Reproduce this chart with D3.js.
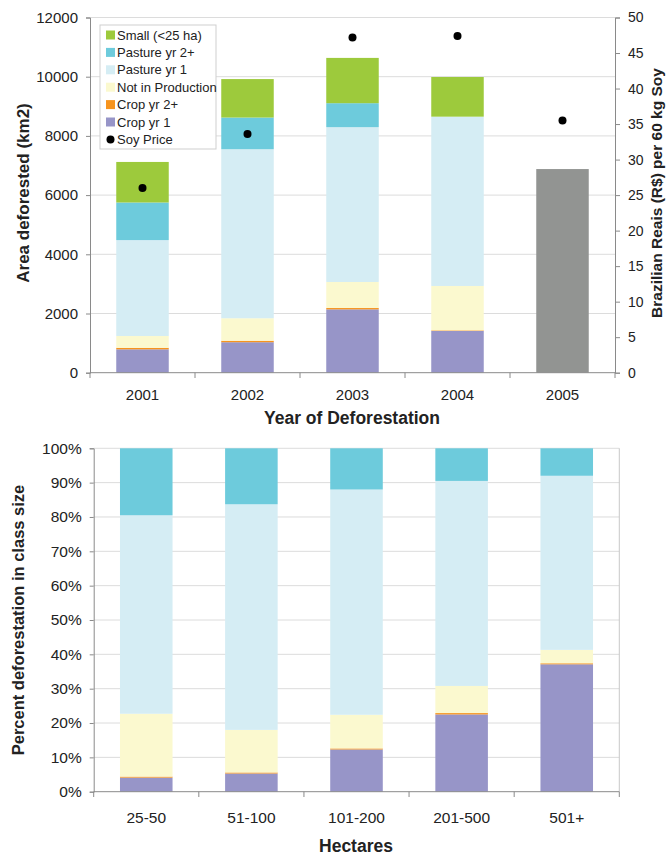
<!DOCTYPE html>
<meta charset="utf-8" />
<script src="https://d3js.org/d3.v7.min.js"></script>
<style>
  body { margin: 0; background: #fff; }
  text { font-family: "Liberation Sans", Arial, sans-serif; fill: #222; }
</style>
<body>
  <div id="my_dataviz"></div>
</body>
<script>
  // ---- data ----
  const years = ["2001", "2002", "2003", "2004", "2005"];
  const cropYr1 = [790, 1030, 2140, 1410, 0];
  const cropYr2 = [50, 50, 45, 20, 0];
  const notInProd = [400, 760, 880, 1500, 0];
  const pastureYr1 = [3240, 5710, 5230, 5720, 0];
  const pastureYr2 = [1270, 1070, 810, 0, 0];
  const small = [1370, 1300, 1530, 1340, 0];
  const unclassified = [0, 0, 0, 0, 6880];
  const soyPrice = [26.0, 33.6, 47.2, 47.4, 35.5];

  const sizes = ["25-50", "51-100", "101-200", "201-500", "501+"];
  const pctCropYr1 = [4.1, 5.3, 12.3, 22.5, 37.1];
  const pctCropYr2 = [0.3, 0.3, 0.3, 0.4, 0.3];
  const pctNotInProd = [18.3, 12.4, 9.8, 7.9, 3.9];
  const pctPastureYr1 = [57.8, 65.7, 65.6, 59.7, 50.7];
  const pctPastureYr2 = [19.5, 16.3, 12.0, 9.5, 8.0];

  const leftTicks = [0, 2000, 4000, 6000, 8000, 10000, 12000];
  const rightTicks = [0, 5, 10, 15, 20, 25, 30, 35, 40, 45, 50];
  const pctTicks = [0, 10, 20, 30, 40, 50, 60, 70, 80, 90, 100];

  const keys = ["cropYr1", "cropYr2", "notInProd", "pastureYr1", "pastureYr2", "small", "unclassified"];
  const colors = {
    cropYr1: "#9795c8", cropYr2: "#f7941e", notInProd: "#fbf9cf",
    pastureYr1: "#d5edf4", pastureYr2: "#6dcbdc", small: "#9dca3c", unclassified: "#929492"
  };
  const gridColor = "#dcdcdc", axisColor = "#8a8a8a";

  const width = 667, height = 857;
  const svg = d3.select("#my_dataviz")
    .append("svg")
      .attr("width", width)
      .attr("height", height);

  // ---------------- top chart ----------------
  const topRows = years.map((y, i) => ({
    cat: y, cropYr1: cropYr1[i], cropYr2: cropYr2[i], notInProd: notInProd[i],
    pastureYr1: pastureYr1[i], pastureYr2: pastureYr2[i], small: small[i], unclassified: unclassified[i]
  }));

  const x1 = d3.scaleBand().domain(years).range([90, 615]).paddingInner(0.5).paddingOuter(0.25);
  const yL = d3.scaleLinear().domain([0, 12000]).range([372.7, 17.5]);
  const yR = d3.scaleLinear().domain([0, 50]).range([372.7, 17.5]);

  const topG = svg.append("g");

  // gridlines
  topG.append("g").selectAll("line")
    .data(leftTicks.slice(1))
    .join("line")
      .attr("x1", 90).attr("x2", 615)
      .attr("y1", d => yL(d)).attr("y2", d => yL(d))
      .attr("stroke", gridColor);

  // stacked bars
  const topStack = d3.stack().keys(keys)(topRows);
  topG.append("g").selectAll("g")
    .data(topStack)
    .join("g")
      .attr("fill", d => colors[d.key])
    .selectAll("rect")
    .data(d => d)
    .join("rect")
      .attr("x", d => x1(d.data.cat))
      .attr("width", x1.bandwidth())
      .attr("y", d => yL(d[1]))
      .attr("height", d => yL(d[0]) - yL(d[1]));

  // axes
  const leftAxis = topG.append("g")
    .attr("transform", "translate(90,0)")
    .call(d3.axisLeft(yL).tickValues(leftTicks).tickSize(4).tickPadding(8).tickFormat(d3.format("d")));
  const rightAxis = topG.append("g")
    .attr("transform", "translate(615,0)")
    .call(d3.axisRight(yR).tickValues(rightTicks).tickSize(5).tickPadding(8));
  const bottomAxis1 = topG.append("g")
    .attr("transform", "translate(0,372.7)")
    .call(d3.axisBottom(x1).tickSize(0).tickPadding(17));
  [leftAxis, rightAxis, bottomAxis1].forEach(a => {
    a.selectAll("path, line").attr("stroke", axisColor);
    a.selectAll("text").style("font-size", "15px").attr("fill", "#222");
  });
  rightAxis.selectAll("text").style("font-size", "14px");
  bottomAxis1.select("path").attr("d", "M90,0H615");

  // category boundary ticks
  const step1 = x1.step();
  topG.append("g").selectAll("line")
    .data(d3.range(years.length + 1))
    .join("line")
      .attr("x1", i => 90 + i * step1).attr("x2", i => 90 + i * step1)
      .attr("y1", 372.7).attr("y2", 378)
      .attr("stroke", axisColor);

  // soy price points
  topG.append("g").selectAll("circle")
    .data(soyPrice)
    .join("circle")
      .attr("cx", (d, i) => x1(years[i]) + x1.bandwidth() / 2)
      .attr("cy", d => yR(d))
      .attr("r", 4)
      .attr("fill", "#000");

  // titles
  topG.append("text")
    .attr("transform", "translate(29,193) rotate(-90)")
    .attr("text-anchor", "middle")
    .style("font-size", "17px").style("font-weight", "bold")
    .text("Area deforested (km2)");
  topG.append("text")
    .attr("transform", "translate(662,193) rotate(-90)")
    .attr("text-anchor", "middle")
    .style("font-size", "15.5px").style("font-weight", "bold")
    .text("Brazilian Reais (R$) per 60 kg Soy");
  topG.append("text")
    .attr("x", 352).attr("y", 424)
    .attr("text-anchor", "middle")
    .style("font-size", "17.5px").style("font-weight", "bold")
    .text("Year of Deforestation");

  // legend
  const legendItems = [
    {key: "small", label: "Small (<25 ha)"},
    {key: "pastureYr2", label: "Pasture yr 2+"},
    {key: "pastureYr1", label: "Pasture yr 1"},
    {key: "notInProd", label: "Not in Production"},
    {key: "cropYr2", label: "Crop yr 2+"},
    {key: "cropYr1", label: "Crop yr 1"},
    {key: "soy", label: "Soy Price"}
  ];
  const legend = topG.append("g").attr("transform", "translate(100,25)");
  legend.append("rect")
    .attr("width", 116).attr("height", 124)
    .attr("fill", "#fff").attr("stroke", "#cfcfcf");
  const li = legend.selectAll("g.item")
    .data(legendItems)
    .join("g")
      .attr("class", "item")
      .attr("transform", (d, i) => "translate(0," + (10 + i * 17.4) + ")");
  li.filter(d => d.key !== "soy").append("rect")
    .attr("x", 6).attr("y", -4.5).attr("width", 9).attr("height", 9)
    .attr("fill", d => colors[d.key]);
  li.filter(d => d.key === "soy").append("circle")
    .attr("cx", 10.5).attr("cy", 0).attr("r", 4).attr("fill", "#000");
  li.append("text")
    .attr("x", 17).attr("dy", "0.35em")
    .style("font-size", "13px")
    .text(d => d.label);

  // ---------------- bottom chart ----------------
  const botRows = sizes.map((s, i) => ({
    cat: s, cropYr1: pctCropYr1[i], cropYr2: pctCropYr2[i], notInProd: pctNotInProd[i],
    pastureYr1: pctPastureYr1[i], pastureYr2: pctPastureYr2[i], small: 0, unclassified: 0
  }));

  const x2 = d3.scaleBand().domain(sizes).range([93.7, 619.3]).paddingInner(0.5).paddingOuter(0.25);
  const y2 = d3.scaleLinear().domain([0, 100]).range([791.7, 448.3]);

  const botG = svg.append("g");

  botG.append("g").selectAll("line")
    .data(pctTicks.slice(1))
    .join("line")
      .attr("x1", 93.7).attr("x2", 619.3)
      .attr("y1", d => y2(d)).attr("y2", d => y2(d))
      .attr("stroke", gridColor);
  botG.append("line")
    .attr("x1", 619.3).attr("x2", 619.3)
    .attr("y1", 448.3).attr("y2", 791.7)
    .attr("stroke", "#c8c8c8");

  const botStack = d3.stack().keys(keys.slice(0, 5))(botRows);
  botG.append("g").selectAll("g")
    .data(botStack)
    .join("g")
      .attr("fill", d => colors[d.key])
    .selectAll("rect")
    .data(d => d)
    .join("rect")
      .attr("x", d => x2(d.data.cat))
      .attr("width", x2.bandwidth())
      .attr("y", d => y2(d[1]))
      .attr("height", d => y2(d[0]) - y2(d[1]));

  const leftAxis2 = botG.append("g")
    .attr("transform", "translate(93.7,0)")
    .call(d3.axisLeft(y2).tickValues(pctTicks).tickSize(4).tickPadding(8).tickFormat(d => d + "%"));
  const bottomAxis2 = botG.append("g")
    .attr("transform", "translate(0,791.7)")
    .call(d3.axisBottom(x2).tickSize(0).tickPadding(20));
  [leftAxis2, bottomAxis2].forEach(a => {
    a.selectAll("path, line").attr("stroke", axisColor);
    a.selectAll("text").style("font-size", "15.5px").attr("fill", "#222");
  });
  bottomAxis2.select("path").attr("d", "M93.7,0H619.3");

  const step2 = x2.step();
  botG.append("g").selectAll("line")
    .data(d3.range(sizes.length + 1))
    .join("line")
      .attr("x1", i => 93.7 + i * step2).attr("x2", i => 93.7 + i * step2)
      .attr("y1", 791.7).attr("y2", 797)
      .attr("stroke", axisColor);

  botG.append("text")
    .attr("transform", "translate(24,620) rotate(-90)")
    .attr("text-anchor", "middle")
    .style("font-size", "16.5px").style("font-weight", "bold")
    .text("Percent deforestation in class size");
  botG.append("text")
    .attr("x", 356).attr("y", 852)
    .attr("text-anchor", "middle")
    .style("font-size", "17.5px").style("font-weight", "bold")
    .text("Hectares");
</script>
